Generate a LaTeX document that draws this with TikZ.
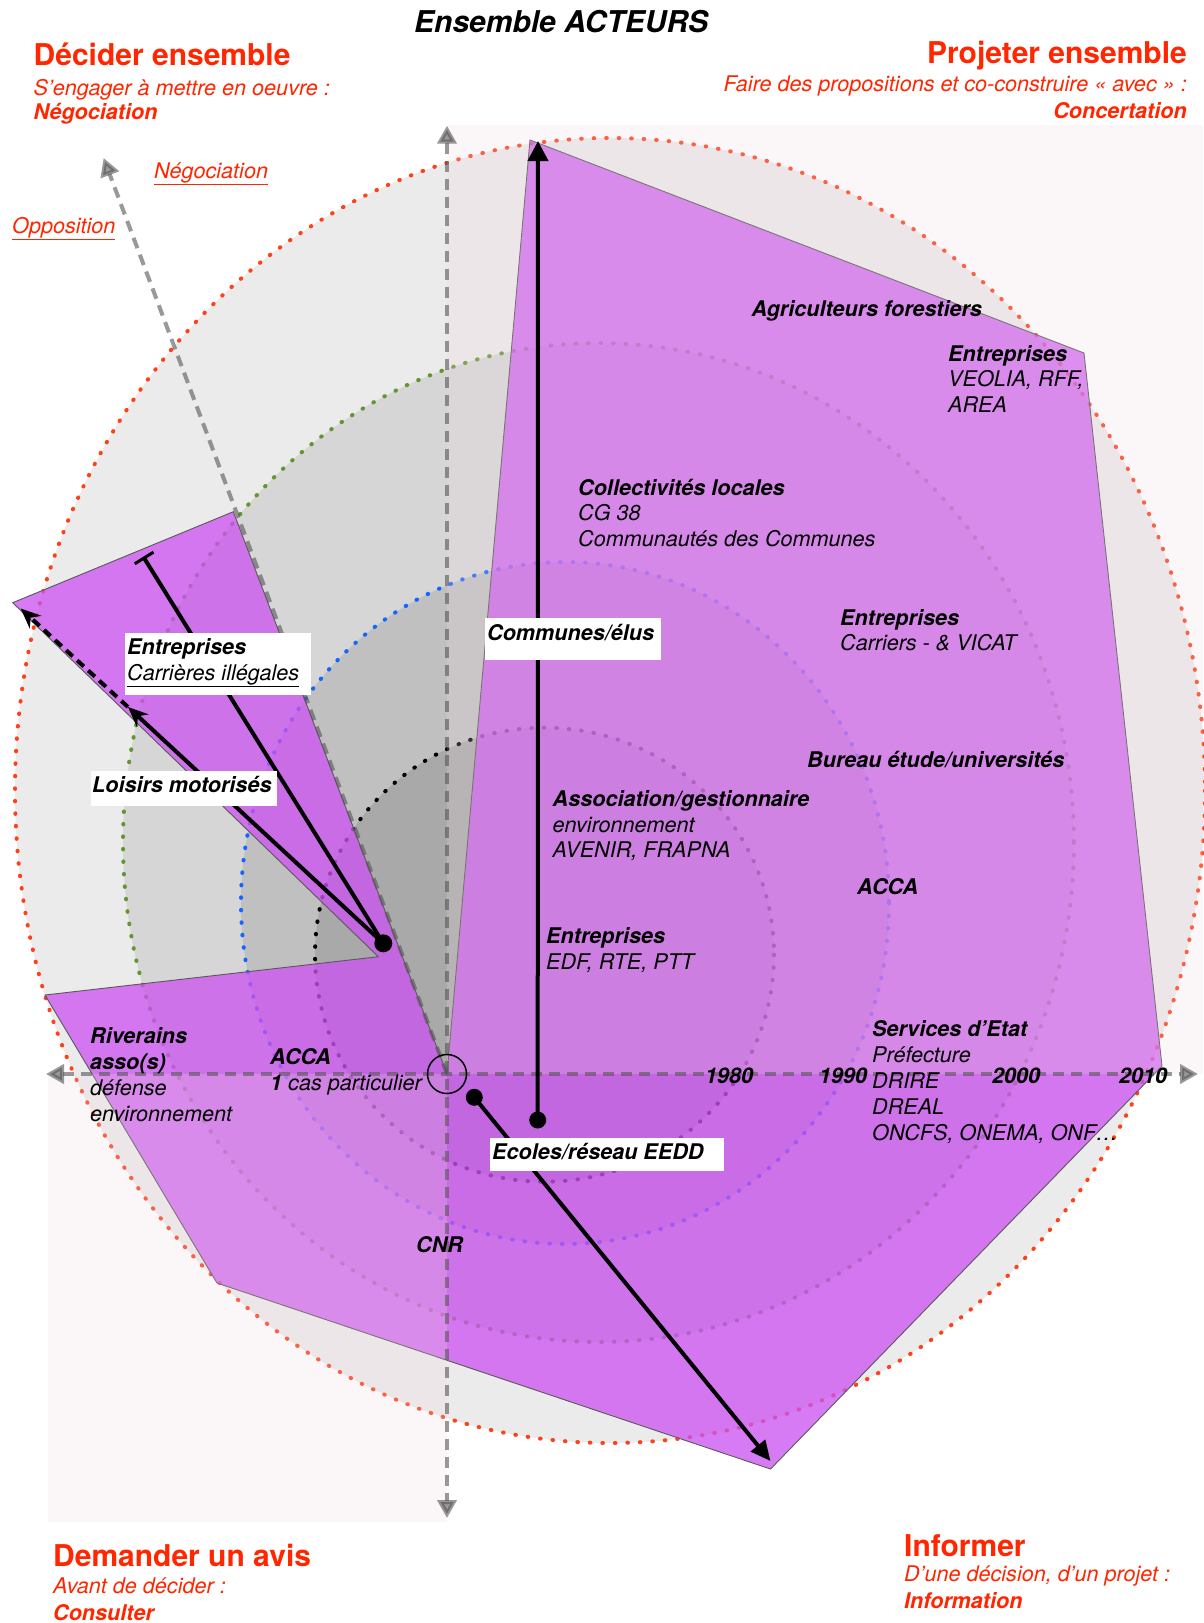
\documentclass[tikz,border=0pt]{standalone}
\usepackage{fontspec}
\setmainfont{TeX Gyre Heros}
\usetikzlibrary{arrows.meta}
\definecolor{purp}{RGB}{204,84,241}
\definecolor{redt}{RGB}{255,38,0}
\definecolor{reddot}{RGB}{255,64,25}
\definecolor{greendot}{RGB}{98,150,46}
\definecolor{bluedot}{RGB}{20,100,255}
\definecolor{pinkov}{RGB}{240,216,224}
\definecolor{axisc}{RGB}{85,85,85}
\definecolor{gA}{RGB}{235,235,235}
\definecolor{gB}{RGB}{214,214,214}
\definecolor{gC}{RGB}{192,192,192}
\definecolor{gD}{RGB}{169,169,169}
\tikzset{
  gtip/.tip={Triangle[length=18pt,width=19pt]},
  dotring/.style={line width=4pt, line cap=round, dash pattern=on 0.6pt off 11.9pt},
  axisline/.style={draw=axisc, opacity=0.6, line width=4pt, dash pattern=on 11pt off 7pt},
  tx/.style={anchor=base west, inner sep=0pt, font=\fontsize{21.6}{26}\selectfont\itshape},
  tb/.style={anchor=base west, inner sep=0pt, font=\fontsize{21.6}{26}\selectfont\bfseries\itshape},
  hd/.style={inner sep=0pt, text=redt, font=\fontsize{30}{36}\selectfont\bfseries},
  rt/.style={inner sep=0pt, text=redt, font=\fontsize{21.6}{26}\selectfont\itshape},
  rb/.style={inner sep=0pt, text=redt, font=\fontsize{21.6}{26}\selectfont\bfseries\itshape},
  wbox/.style={fill=white, draw=none, inner sep=0pt, anchor=north west},
  blk/.style={line width=4pt, draw=black},
  bdot/.style={circle, fill=black, inner sep=0pt, minimum size=17pt},
}
\begin{document}
\begin{tikzpicture}[x=1pt,y=-1pt]
\useasboundingbox (0,0) rectangle (1203,1623);
\fill[white] (0,0) rectangle (1203,1623);

% concentric discs
\filldraw[fill=gA, draw=reddot, dotring] (610,790.5) ellipse [x radius=595, y radius=652.5];
\filldraw[fill=gB, draw=greendot, dotring] (598.5,842.5) ellipse [x radius=475.5, y radius=499.5];
\filldraw[fill=gC, draw=bluedot, dotring] (565,903) ellipse [x radius=324, y radius=341];
\filldraw[fill=gD, draw=black, dotring] (544.5,954.7) ellipse [x radius=229.5, y radius=227];

% polygon
\coordinate (O) at (447,1074);
\coordinate (P1) at (530,140);
\coordinate (P2) at (1084,353);
\coordinate (P3) at (1162,1066);
\coordinate (P4) at (770.5,1469);
\coordinate (P5) at (217,1283);
\coordinate (P6) at (45,995);
\coordinate (P7) at (378.3,956.7);
\coordinate (P8) at (12.7,602.7);
\coordinate (P9) at (233.3,511.7);
\filldraw[fill=purp, fill opacity=0.77, draw=black!65, line width=0.9pt]
  (P1) -- (P2) -- (P3) -- (P4) -- (P5) -- (P6) -- (P7) -- (P8) -- (P9) -- (O) -- cycle;

% quadrant tints
\fill[pinkov, opacity=0.22] (447,124.6) rectangle (1203,1074);
\fill[pinkov, opacity=0.22] (48,1074) rectangle (447,1522);

% axes
\coordinate (AxL) at (46,1074);
\coordinate (AxR) at (1198,1074);
\coordinate (AxT) at (447,125.7);
\coordinate (AxB) at (447,1518);
\coordinate (NegTip) at (103.6,158);
\draw[axisline, gtip-gtip] (AxL) -- (AxR);
\draw[axisline, gtip-gtip] (AxT) -- (AxB);
\draw[axisline, -gtip] (O) -- (NegTip);

% black arrows
\node[bdot] (dV) at (537.7,1120) {};
\node[bdot] (dD) at (474.3,1097.3) {};
\node[bdot, minimum size=18pt] (dL) at (383.3,943.3) {};
\coordinate (tipV) at (538,141);
\coordinate (tipD) at (770.5,1461);
\coordinate (aL1) at (128,707);
\coordinate (aL2) at (20.7,608.5);
\coordinate (tbar) at (143.3,556.7);
\draw[blk, -{Triangle[length=20pt,width=20pt]}] (dV.center) -- (tipV);
\draw[blk, -{Triangle[length=20pt,width=18pt]}] (dD.center) -- (tipD);
\draw[blk, -{Stealth[length=20pt,width=17pt]}] (dL.center) -- (aL1);
\draw[blk, dash pattern=on 9pt off 6pt, -{Stealth[length=20pt,width=17pt]}] (aL1) -- (aL2);
\draw[blk, -{Bar[width=22pt,line width=3pt]}] (dL.center) -- (tbar);
\node[circle, draw=black, line width=1.5pt, minimum size=39pt, inner sep=0pt] (orig) at (O) {};

% white boxes
\node[wbox, minimum width=176pt, minimum height=42pt] (bCom) at (485,618) {};
\node[wbox, minimum width=234pt, minimum height=33pt] (bEco) at (490,1138) {};
\node[wbox, minimum width=186pt, minimum height=62pt] (bCar) at (125,633) {};
\node[wbox, minimum width=186pt, minimum height=35pt] (bLoi) at (91,771) {};

% headers
\node[anchor=base west, inner sep=0pt, font=\fontsize{30}{36}\selectfont\bfseries\itshape] (title) at (414,32) {Ensemble ACTEURS};
\node[hd, anchor=base west] (h1) at (33.5,65.7) {Décider ensemble};
\node[rt, anchor=base west] (h1a) at (33.5,95) {S’engager à mettre en oeuvre :};
\node[rb, anchor=base west] (h1b) at (33.5,119) {Négociation};
\node[hd, anchor=base east] (h2) at (1187,63.3) {Projeter ensemble};
\node[rt, anchor=base east] (h2a) at (1187,91.7) {Faire des propositions et co-construire « avec » :};
\node[rb, anchor=base east] (h2b) at (1187,118.3) {Concertation};
\node[hd, anchor=base west] (h3) at (53,1566) {Demander un avis};
\node[rt, anchor=base west] (h3a) at (53,1593) {Avant de décider :};
\node[rb, anchor=base west] (h3b) at (53,1620) {Consulter};
\node[hd, anchor=base west] (h4) at (904,1556) {Informer};
\node[rt, anchor=base west] (h4a) at (904,1581) {D’une décision, d’un projet :};
\node[rb, anchor=base west] (h4b) at (904,1608) {Information};
\node[rt, anchor=base west] (neg) at (154,178) {\underline{Négociation}};
\node[rt, anchor=base west] (opp) at (12,233) {\underline{Opposition}};

% interior labels
\node[tb] (agr) at (751.5,316) {Agriculteurs forestiers};
\node[tb] (ent1) at (948,361) {Entreprises};
\node[tx] (ent1a) at (948,386.7) {VEOLIA, RFF,};
\node[tx] (ent1b) at (948,412) {AREA};
\node[tb] (col) at (578,495) {Collectivités locales};
\node[tx] (cola) at (578,520) {CG 38};
\node[tx] (colb) at (578,546) {Communautés des Communes};
\node[tb] (com) at (487,640) {Communes/élus};
\node[tb] (ent2) at (840,625) {Entreprises};
\node[tx] (ent2a) at (840,650) {Carriers - \& VICAT};
\node[tb] (bur) at (807,767) {Bureau étude/universités};
\node[tb] (ass) at (552.5,806) {Association/gestionnaire};
\node[tx] (assa) at (552.5,832) {environnement};
\node[tx] (assb) at (552.5,857) {AVENIR, FRAPNA};
\node[tb] (acca1) at (857,894) {ACCA};
\node[tb] (ent3) at (546,943) {Entreprises};
\node[tx] (ent3a) at (546,969) {EDF, RTE, PTT};
\node[tb] (ser) at (872,1036) {Services d’Etat};
\node[tx] (sera) at (872,1062.7) {Préfecture};
\node[tx] (serb) at (872,1088) {DRIRE};
\node[tx] (serc) at (872,1114) {DREAL};
\node[tx] (serd) at (872,1140) {ONCFS, ONEMA, ONF…};
\node[tb] (y80) at (705,1083) {1980};
\node[tb] (y90) at (819,1083) {1990};
\node[tb] (y00) at (992,1083) {2000};
\node[tb] (y10) at (1119,1083) {2010};
\node[tb] (riv) at (90,1043) {Riverains};
\node[tb] (riva) at (90,1069) {asso(s)};
\node[tx] (rivb) at (90,1095) {défense};
\node[tx] (rivc) at (90,1121) {environnement};
\node[tb] (acca2) at (270,1064) {ACCA};
\node[tx] (acca2a) at (270,1090) {\textbf{1} cas particulier};
\node[tb] (cnr) at (416,1252) {CNR};
\node[tb] (eco) at (492,1159) {Ecoles/réseau EEDD};
\node[tb] (ent4) at (127,654) {Entreprises};
\node[tx] (ent4a) at (127,680) {\underline{Carrières illégales}};
\node[tb] (loi) at (92,792) {Loisirs motorisés};
\end{tikzpicture}
\end{document}
